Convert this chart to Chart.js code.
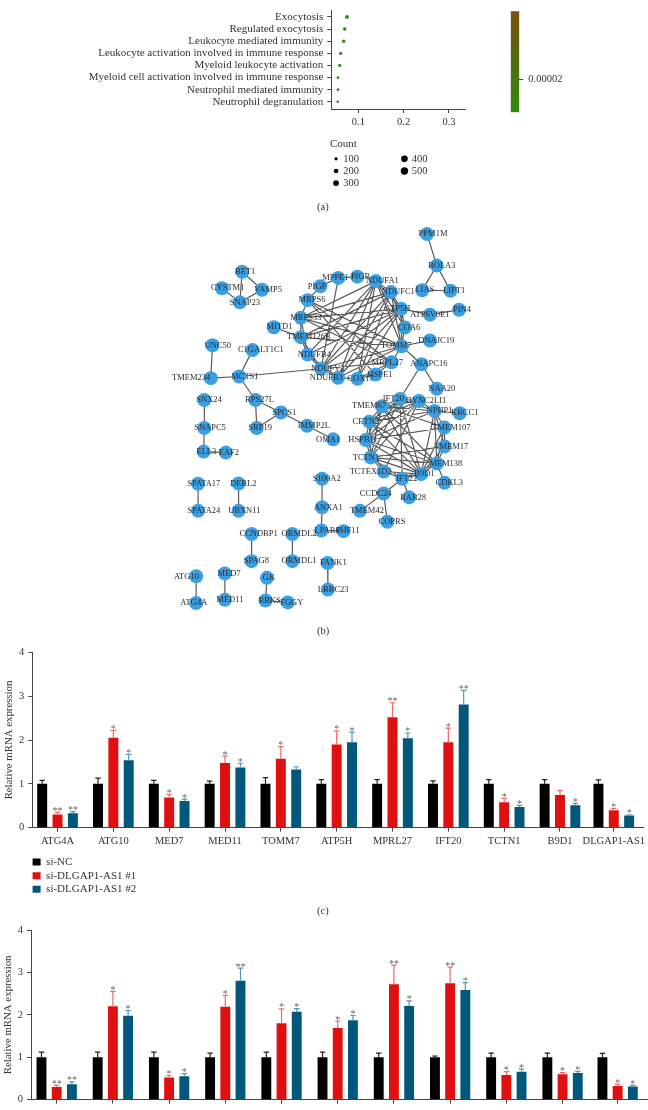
<!DOCTYPE html>
<html>
<head>
<meta charset="utf-8">
<script src="https://cdn.jsdelivr.net/npm/chart.js@4"></script>
<style>
  html, body { margin: 0; padding: 0; background: #fff; overflow: hidden; }
  #page { position: relative; width: 648px; height: 1110px; overflow: hidden; }
  canvas { position: absolute; }
  .cap { position: absolute; font: 10.5px 'Liberation Serif', serif; color: #333; white-space: nowrap; }
</style>
</head>
<body>
<div id="page">
  <canvas id="dotChart" width="648" height="135" style="left:0;top:0"></canvas>
  <canvas id="colorBar" width="100" height="125" style="left:500px;top:0"></canvas>
  <canvas id="countChart" width="150" height="60" style="left:320px;top:135px"></canvas>
  <canvas id="network" width="648" height="420" style="left:0;top:210px"></canvas>
  <canvas id="barsC" width="648" height="215" style="left:0;top:640px"></canvas>
  <canvas id="legendC" width="200" height="48" style="left:30px;top:854px"></canvas>
  <canvas id="barsD" width="648" height="192" style="left:0;top:918px"></canvas>
  <div class="cap" style="left:330px;top:137px;font-size:11px">Count</div>
  <div class="cap" style="left:317px;top:201px">(a)</div>
  <div class="cap" style="left:317px;top:625px">(b)</div>
  <div class="cap" style="left:317px;top:905px">(c)</div>
</div>

<script>
// panel a data
const terms = ["Exocytosis", "Regulated exocytosis", "Leukocyte mediated immunity",
  "Leukocyte activation involved in immune response", "Myeloid leukocyte activation",
  "Myeloid cell activation involved in immune response", "Neutrophil mediated immunity",
  "Neutrophil degranulation"];
const geneRatio = [0.075, 0.07, 0.0678, 0.0611, 0.059, 0.0552, 0.0552, 0.0545];
const termCount = [135, 120, 115, 95, 90, 70, 68, 60];
const ratioTicks = [0.1, 0.2, 0.3];
const colorTicks = [0.00002];
const colorRange = [0.00001046, 0.00003974];
const countLevels = [100, 200, 300, 400, 500];
const countCol = [0, 0, 0, 1, 1];
const countRow = [0, 1, 2, 0, 1];

// panel b data
const nodeNames = [
  "PPM1M", "BOLA3", "LIAS", "LIPT1", "PIN4", "ATP6V0E1", "ATP5H", "NDUFC1", "NDUFA1", "PIGB",
  "MPPE1", "PIGP", "MRPS6", "MRPS33", "TMEM126B", "MITD1", "NDUFB4", "NDUFV2", "NDUFB3", "COX17",
  "HSPE1", "MRPL27", "TOMM7", "COA6", "DNAJC19", "ANAPC16", "NAA20", "IFT20", "DYNC2LI1", "TMEM67",
  "NPHP1", "KRCC1", "CETN2", "TMEM107", "TMEM17", "HSPB11", "TCTN1", "MEM138", "B9D1", "TCTEX1D2",
  "IFT22", "CDKL3", "RAB28", "CCDC24", "TMEM42", "COPRS", "S100A2", "ANXA1", "LPAR6", "PHF11",
  "SPATA17", "SPATA24", "DERL2", "UBXN11", "CCNDBP1", "SPAG8", "ORMDL2", "ORMDL1", "FANK1", "LRRC23",
  "GK", "RBKS", "FGGY", "MED7", "MED11", "ATG10", "ATG4A", "OMA1", "IMMP2L", "SRP19",
  "SPCS1", "RPS27L", "MCTS1", "TMEM234", "UNC50", "C1GALT1C1", "SNX24", "SNAPC5", "ELL3", "EAF2",
  "BET1", "VAMP5", "CYSTM1", "SNAP23"];
const nodeX = [
  429.3, 439.3, 424.3, 453.3, 462, 432.3, 403, 392.3, 377, 358,
  338.7, 320.3, 307.3, 300.3, 300.3, 272.7, 307.3, 321, 338.3, 358.3,
  376.7, 393, 403.3, 406.7, 432.3, 423.7, 439.3, 401.7, 421, 383.3,
  437, 462.7, 370.3, 447, 447.3, 366.7, 371.7, 439.3, 423.3, 385,
  404, 447.3, 411, 385, 360.7, 388.7, 322, 322, 321.3, 344,
  195.3, 195.3, 236.7, 236.7, 250, 250, 291.7, 291.7, 327.7, 328,
  265.7, 264.3, 287, 222.7, 222.7, 193.3, 193.3, 333.3, 306.7, 255.3,
  280, 254, 237.3, 208.3, 210, 251, 201.7, 201.7, 201, 223.7,
  240.3, 260.7, 219.7, 238];
const nodeY = [
  227.7, 260.3, 285.7, 286.3, 306, 311, 305, 287.7, 276.3, 271.7,
  273, 281.7, 296, 314.3, 334.3, 324, 352.3, 367, 376.3, 377.3,
  373, 360.3, 343.7, 324.3, 337.7, 362.3, 387.7, 398.3, 400.3, 405.7,
  410.7, 413, 421.7, 427.7, 447.3, 440.7, 458.7, 465, 476, 473.3,
  480.7, 485, 500, 496, 514, 525.3, 480.7, 510.3, 534.3, 535,
  486, 514, 485.7, 514, 538, 566, 538, 566, 568, 595.3,
  583.3, 606.7, 608.7, 578.7, 606, 581.7, 609.3, 440, 426, 428.3,
  412.3, 399.3, 375, 376.7, 342.7, 347.7, 399.3, 428.3, 452.7, 453.7,
  266.7, 285.3, 283.7, 298.3];
const labelShift = [
  6, 5, 2.7, 3.7, 3, 0, -3.7, 7.5, 6.5, 3.3,
  -3, -3.3, 4.3, 5, 8, 5.7, 6.7, 6.7, -11.7, 3,
  4.3, -4.3, -5.3, 4.3, 6.3, 7.3, 5, -6.7, 7, -13,
  5, 5, -3.5, 7, 6.7, -2.7, -4.7, 9, 3.3, -13,
  4.3, 4.7, 4, -8, 7, 4.7, 4.7, 6.3, 5.7, 4,
  5.7, 5.7, 4.7, 5.7, 7, 4.7, 6.7, 6.7, 5.7, 5.3,
  2, 4, 4, 4.3, 5, -9.7, -2.3, -5, 6.7, 3.3,
  3.3, 4, 5.7, -19.7, 5.3, 8.3, 4.7, 5.7, 2.7, 3,
  3, 6, 5.7, 5];

const edgeLists = [
  // small components
  ["PPM1M", "BOLA3"], ["BOLA3", "LIAS", "LIPT1"], ["LIAS", "LIPT1"], ["ATP6V0E1", "PIN4", "ATP5H"],
  ["BET1", "VAMP5", "SNAP23"], ["SNAP23", "CYSTM1", "VAMP5"], ["MPPE1", "PIGB", "PIGP", "NDUFV2"],
  ["PIGP", "MRPS6"], ["MITD1", "TMEM126B"], ["UNC50", "TMEM234"], ["MCTS1", "TMEM234", "C1GALT1C1", "RPS27L", "NDUFV2"],
  ["RPS27L", "SPCS1", "SRP19"], ["SPCS1", "SRP19", "IMMP2L"], ["IMMP2L", "OMA1"], ["SNX24", "SNAPC5"],
  ["SNAPC5", "ELL3"], ["ELL3", "EAF2"], ["SPATA17", "SPATA24"], ["DERL2", "UBXN11"], ["S100A2", "ANXA1"],
  ["ANXA1", "LPAR6"], ["LPAR6", "PHF11"], ["CCNDBP1", "SPAG8"], ["ORMDL2", "ORMDL1"], ["FANK1", "LRRC23"],
  ["GK", "RBKS"], ["RBKS", "FGGY"], ["MED7", "MED11"], ["ATG10", "ATG4A"],
  ["TOMM7", "DNAJC19", "ANAPC16"], ["ANAPC16", "NAA20", "IFT20"],
  ["IFT22", "RAB28", "CCDC24"], ["CCDC24", "TMEM42", "COPRS"], ["MEM138", "CDKL3"], ["NPHP1", "KRCC1"],
  // mitochondrial cluster
  ["NDUFA1", "NDUFC1", "ATP5H", "COA6", "TOMM7", "COX17", "NDUFB3", "NDUFV2", "NDUFB4", "MRPS33"],
  ["NDUFC1", "ATP5H", "COA6", "TOMM7", "COX17", "NDUFB3", "NDUFV2", "TMEM126B", "MRPS33"],
  ["ATP5H", "COA6", "TOMM7", "COX17", "NDUFB3", "NDUFV2", "NDUFB4", "TMEM126B", "MRPS33"],
  ["TOMM7", "MRPL27", "COA6", "NDUFB3", "NDUFV2", "MRPS33", "MRPS6", "TMEM126B"],
  ["MRPL27", "MRPS6", "MRPS33", "NDUFV2", "HSPE1", "COX17"],
  ["COX17", "HSPE1", "NDUFB3"],
  ["NDUFB3", "NDUFV2", "NDUFB4"],
  ["NDUFV2", "NDUFB4", "TMEM126B"],
  ["NDUFB4", "TMEM126B", "MRPS33"], ["TMEM126B", "MRPS33"], ["MRPS33", "MRPS6"], ["MRPS6", "HSPE1"],
  // cilia cluster
  ["IFT20", "DYNC2LI1", "TMEM67", "NPHP1", "CETN2", "HSPB11", "TCTN1", "B9D1", "IFT22"],
  ["DYNC2LI1", "NPHP1", "TMEM67", "CETN2", "HSPB11", "TCTN1", "TCTEX1D2"],
  ["TMEM67", "NPHP1", "TMEM107", "MEM138", "B9D1", "TCTN1", "CETN2", "HSPB11"],
  ["NPHP1", "TMEM107", "TMEM17", "MEM138", "B9D1", "CETN2", "HSPB11"],
  ["CETN2", "HSPB11", "TCTN1", "MEM138", "B9D1"],
  ["TMEM107", "TMEM17", "MEM138", "B9D1", "HSPB11"],
  ["TMEM17", "MEM138", "B9D1", "TCTN1"],
  ["HSPB11", "TCTN1", "B9D1", "MEM138", "TCTEX1D2"],
  ["TCTN1", "MEM138", "B9D1", "TCTEX1D2", "IFT22"],
  ["MEM138", "B9D1", "IFT22"], ["B9D1", "IFT22", "TCTEX1D2"], ["TCTEX1D2", "IFT22"]
];

// panel c and d data
const genes = ["ATG4A", "ATG10", "MED7", "MED11", "TOMM7", "ATP5H", "MPRL27", "IFT20", "TCTN1", "B9D1", "DLGAP1-AS1"];
const seriesNames = ["si-NC", "si-DLGAP1-AS1 #1", "si-DLGAP1-AS1 #2"];
const valueTicks = [0, 1, 2, 3, 4];

const cGroupX = [0, 1, 2, 3, 4, 5, 6, 7, 8, 9, 9.964];
const cBlack = [1, 1, 1, 1, 1, 1, 1, 1, 1, 1, 1];
const cBlackTop = [1.08, 1.13, 1.08, 1.06, 1.14, 1.095, 1.095, 1.07, 1.095, 1.095, 1.09];
const cRed = [0.3, 2.05, 0.69, 1.475, 1.575, 1.9, 2.52, 1.95, 0.58, 0.745, 0.4];
const cRedTop = [0.35, 2.22, 0.76, 1.63, 1.85, 2.21, 2.85, 2.27, 0.67, 0.845, 0.44];
const cBlue = [0.33, 1.54, 0.61, 1.375, 1.33, 1.95, 2.04, 2.81, 0.47, 0.51, 0.28];
const cBlueTop = [0.365, 1.67, 0.65, 1.47, 1.39, 2.18, 2.16, 3.13, 0.51, 0.555, 0.295];
const cRedStars = ["**", "*", "*", "*", "*", "*", "**", "*", "*", "", "*"];
const cBlueStars = ["**", "*", "*", "*", "", "*", "*", "**", "*", "*", "*"];

const dGroupX = [0, 1, 2, 3, 4, 5, 6, 7, 8, 9, 9.98];
const dBlack = [1, 1, 1, 1, 1, 1, 1, 1, 1, 1, 1];
const dBlackTop = [1.12, 1.12, 1.12, 1.1, 1.12, 1.12, 1.1, 1.03, 1.1, 1.1, 1.09];
const dRed = [0.3, 2.2, 0.525, 2.19, 1.8, 1.69, 2.72, 2.745, 0.58, 0.6, 0.32];
const dRedTop = [0.34, 2.555, 0.57, 2.46, 2.14, 1.855, 3.17, 3.125, 0.66, 0.64, 0.365];
const dBlue = [0.365, 1.98, 0.555, 2.805, 2.075, 1.87, 2.21, 2.585, 0.66, 0.63, 0.31];
const dBlueTop = [0.42, 2.1, 0.615, 3.1, 2.145, 1.985, 2.33, 2.76, 0.72, 0.67, 0.34];
const dRedStars = ["**", "*", "*", "*", "*", "*", "**", "**", "*", "*", "*"];
const dBlueStars = ["**", "*", "*", "**", "*", "*", "*", "*", "*", "*", "*"];

Chart.defaults.font.family = "'Liberation Serif', serif";
Chart.defaults.color = "#333";
Chart.defaults.animation = false;
Chart.defaults.responsive = false;
Chart.defaults.plugins.legend.display = false;
Chart.defaults.plugins.tooltip.enabled = false;

const axisColor = "#444";
const pointGreen = "#2a8a12";
const bubbleSize = (count) => Math.sqrt(count) * 0.165;

// (a) dot plot
new Chart(document.getElementById("dotChart"), {
  type: "bubble",
  data: {
    datasets: [{
      data: terms.map((t, i) => ({ x: geneRatio[i], y: i, r: bubbleSize(termCount[i]) })),
      backgroundColor: pointGreen,
      borderWidth: 0
    }]
  },
  options: {
    layout: { padding: { right: 182.3 } },
    scales: {
      x: {
        type: "linear", min: 0.0404, max: 0.3369,
        border: { color: axisColor, width: 1 },
        grid: { drawOnChartArea: false, tickLength: 4, tickColor: axisColor },
        ticks: { font: { size: 10.5 }, padding: 3, maxRotation: 0 },
        afterBuildTicks: (axis) => { axis.ticks = ratioTicks.map((v) => ({ value: v })); },
        afterFit: (axis) => { axis.height = 26; }
      },
      y: {
        type: "linear", reverse: true, min: -0.52, max: 7.596,
        border: { color: axisColor, width: 1 },
        grid: { drawOnChartArea: false, tickLength: 4, tickColor: axisColor },
        ticks: { font: { size: 11 }, padding: 4, autoSkip: false, callback: (v) => terms[v] },
        afterBuildTicks: (axis) => { axis.ticks = terms.map((t, i) => ({ value: i })); },
        afterFit: (axis) => { axis.width = 331.3; }
      }
    }
  }
});

// colour bar
new Chart(document.getElementById("colorBar"), {
  type: "bar",
  data: {
    labels: ["p.adjust"],
    datasets: [{
      data: [colorRange],
      barPercentage: 1,
      categoryPercentage: 1,
      backgroundColor: (ctx) => {
        const area = ctx.chart.chartArea;
        if (!area) return "#555";
        const grad = ctx.chart.ctx.createLinearGradient(0, area.top, 0, area.bottom);
        grad.addColorStop(0, "#7e4f0e");
        grad.addColorStop(0.5, "#4f6a10");
        grad.addColorStop(1, "#2f8c0c");
        return grad;
      }
    }]
  },
  options: {
    layout: { padding: { left: 10.7, bottom: 12.7 } },
    scales: {
      x: { display: false },
      y: {
        position: "right",
        min: colorRange[0], max: colorRange[1],
        border: { display: false },
        grid: { drawOnChartArea: false, tickLength: 4, tickColor: axisColor },
        ticks: { font: { size: 10.5 }, padding: 5, callback: (v) => v.toFixed(5) },
        afterBuildTicks: (axis) => { axis.ticks = colorTicks.map((v) => ({ value: v })); },
        afterFit: (axis) => { axis.width = 80.7; }
      }
    }
  }
});

// labels next to the Count markers
const countLabels = {
  id: "countLabels",
  afterDatasetsDraw(chart) {
    const { ctx, scales } = chart;
    ctx.save();
    ctx.font = "10.5px 'Liberation Serif'";
    ctx.fillStyle = "#333";
    ctx.textBaseline = "middle";
    countLevels.forEach((level, i) => {
      ctx.fillText(level, scales.x.getPixelForValue(countCol[i]) + 7.3, scales.y.getPixelForValue(countRow[i]));
    });
    ctx.restore();
  }
};

new Chart(document.getElementById("countChart"), {
  type: "bubble",
  data: {
    datasets: [{
      data: countLevels.map((c, i) => ({ x: countCol[i], y: countRow[i], r: bubbleSize(c) })),
      backgroundColor: "#000",
      borderWidth: 0
    }]
  },
  options: {
    scales: {
      x: { display: false, type: "linear", min: -0.176, max: 1.9 },
      y: { display: false, type: "linear", reverse: true, min: -1.636, max: 2.65 }
    }
  },
  plugins: [countLabels]
});

// (b) network
const nodeIndex = (name) => nodeNames.indexOf(name);
const edgePoints = [];
edgeLists.forEach((list) => {
  const a = nodeIndex(list[0]);
  list.slice(1).forEach((other) => {
    const b = nodeIndex(other);
    edgePoints.push({ x: nodeX[a], y: nodeY[a] }, { x: nodeX[b], y: nodeY[b] }, { x: NaN, y: NaN });
  });
});

const nodeLabels = {
  id: "nodeLabels",
  afterDatasetsDraw(chart) {
    const { ctx, scales } = chart;
    ctx.save();
    ctx.font = "8.5px 'Liberation Serif'";
    ctx.fillStyle = "#2b2b2b";
    ctx.textAlign = "center";
    ctx.textBaseline = "middle";
    nodeNames.forEach((name, i) => {
      ctx.fillText(name, scales.x.getPixelForValue(nodeX[i]) + labelShift[i], scales.y.getPixelForValue(nodeY[i]));
    });
    ctx.restore();
  }
};

new Chart(document.getElementById("network"), {
  type: "scatter",
  data: {
    datasets: [{
      label: "genes",
      data: nodeNames.map((n, i) => ({ x: nodeX[i], y: nodeY[i] })),
      pointRadius: 7,
      pointBorderWidth: 0,
      backgroundColor: "#3b9fe3",
      order: 1
    }, {
      label: "edges",
      data: edgePoints,
      showLine: true,
      spanGaps: false,
      pointRadius: 0,
      borderColor: "#5a5a5a",
      borderWidth: 1.2,
      order: 2
    }]
  },
  options: {
    scales: {
      x: { display: false, type: "linear", min: 0, max: 648 },
      y: { display: false, type: "linear", reverse: true, min: 210, max: 630 }
    }
  },
  plugins: [nodeLabels]
});

// error bars and stars for the bar panels
const errorBars = {
  id: "errorBars",
  afterDatasetsDraw(chart) {
    const { ctx, scales } = chart;
    ctx.save();
    chart.data.datasets.forEach((ds, d) => {
      chart.getDatasetMeta(d).data.forEach((bar, i) => {
        const top = scales.y.getPixelForValue(ds.errTop[i]);
        ctx.strokeStyle = ds.errColor;
        ctx.lineWidth = 1.2;
        ctx.beginPath();
        ctx.moveTo(bar.x, bar.y);
        ctx.lineTo(bar.x, top);
        ctx.moveTo(bar.x - 2.7, top);
        ctx.lineTo(bar.x + 2.7, top);
        ctx.stroke();
        if (ds.stars && ds.stars[i]) {
          ctx.font = "10px 'Liberation Serif'";
          ctx.fillStyle = "#666";
          ctx.textAlign = "center";
          ctx.textBaseline = "alphabetic";
          ctx.fillText(ds.stars[i], bar.x, top + 1.5);
        }
      });
    });
    ctx.restore();
  }
};

function barPanel(id, groupX, xMin, xMax, series, opts) {
  const colors = ["#000000", "#e01010", "#02587a"];
  const errColors = ["#222222", "#f06a6a", "#5396b4"];
  new Chart(document.getElementById(id), {
    type: "bar",
    data: {
      datasets: series.map((s, k) => ({
        label: seriesNames[k],
        data: groupX.map((x, i) => ({ x: x, y: s.values[i] })),
        errTop: s.top,
        stars: s.stars,
        errColor: errColors[k],
        backgroundColor: colors[k],
        categoryPercentage: opts.catPct,
        barPercentage: 0.65
      }))
    },
    options: {
      layout: { padding: { top: opts.top } },
      scales: {
        x: {
          type: "linear", min: xMin, max: xMax, offset: false,
          border: { color: axisColor, width: 1 },
          grid: { drawOnChartArea: false, offset: false, tickLength: 4, tickColor: axisColor },
          ticks: {
            display: opts.showLabels, autoSkip: false, maxRotation: 0, padding: 3,
            font: { size: 10.5 },
            callback: (v) => genes[groupX.indexOf(v)]
          },
          afterBuildTicks: (axis) => { axis.ticks = groupX.map((v) => ({ value: v })); },
          afterFit: (axis) => { axis.height = opts.xHeight; }
        },
        y: {
          min: 0, max: 4,
          border: { color: axisColor, width: 1 },
          grid: { drawOnChartArea: false, tickLength: 4, tickColor: axisColor },
          title: { display: true, text: "Relative mRNA expression", font: { size: 10.8 }, padding: { top: opts.titleTop, bottom: 0 } },
          ticks: { font: { size: 10.5 }, padding: 4 },
          afterBuildTicks: (axis) => { axis.ticks = valueTicks.map((v) => ({ value: v })); },
          afterFit: (axis) => { axis.width = opts.yWidth; }
        }
      }
    },
    plugins: [errorBars]
  });
}

// (c)
barPanel("barsC", cGroupX, -0.452, 10.504, [
  { values: cBlack, top: cBlackTop },
  { values: cRed, top: cRedTop, stars: cRedStars },
  { values: cBlue, top: cBlueTop, stars: cBlueStars }
], { top: 12.3, xHeight: 27.3, yWidth: 32.3, catPct: 0.856, showLabels: true, titleTop: 2.5 });

// legend of panel c
new Chart(document.getElementById("legendC"), {
  type: "bar",
  data: {
    labels: [],
    datasets: seriesNames.map((name, k) => ({
      label: name, data: [], backgroundColor: ["#000000", "#e01010", "#02587a"][k]
    }))
  },
  options: {
    scales: { x: { display: false }, y: { display: false } },
    plugins: {
      legend: {
        display: true, position: "left", align: "start", maxWidth: 190,
        labels: { boxWidth: 8, boxHeight: 7, padding: 2.6, color: "#333", font: { size: 11 } }
      }
    }
  }
});

// (d), tick labels fall below the edge of the picture
barPanel("barsD", dGroupX, -0.457, 10.52, [
  { values: dBlack, top: dBlackTop },
  { values: dRed, top: dRedTop, stars: dRedStars },
  { values: dBlue, top: dBlueTop, stars: dBlueStars }
], { top: 12, xHeight: 4.7, yWidth: 31, catPct: 0.828, showLabels: false, titleTop: 1.5 });
</script>
</body>
</html>
